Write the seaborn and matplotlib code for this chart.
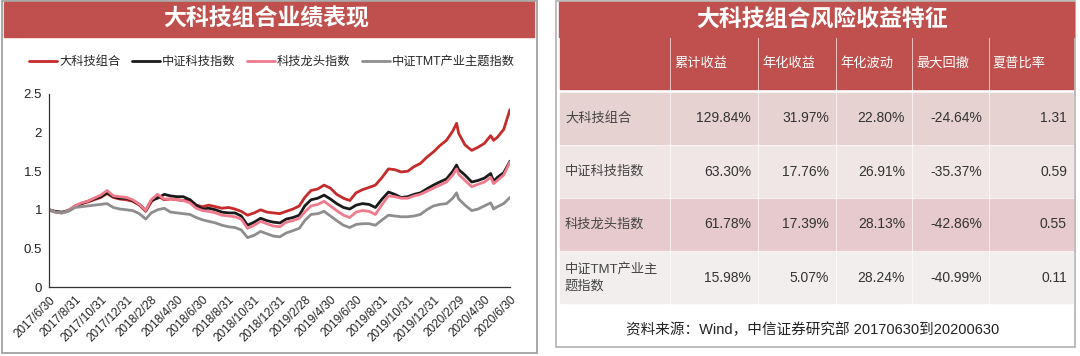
import pandas as pd
import numpy as np
import matplotlib
matplotlib.use("Agg")
import matplotlib.pyplot as plt
from matplotlib.patches import Rectangle
import seaborn as sns

# ---- data ----
dates = ["2017-06-30", "2017-07-15", "2017-07-31", "2017-08-15", "2017-08-31", "2017-09-15",
         "2017-09-30", "2017-10-15", "2017-10-31", "2017-11-15", "2017-11-30", "2017-12-15",
         "2017-12-31", "2018-01-15", "2018-01-31", "2018-02-15", "2018-02-28", "2018-03-15",
         "2018-03-31", "2018-04-15", "2018-04-30", "2018-05-15", "2018-05-31", "2018-06-15",
         "2018-06-30", "2018-07-15", "2018-07-31", "2018-08-15", "2018-08-31", "2018-09-15",
         "2018-09-30", "2018-10-15", "2018-10-31", "2018-11-15", "2018-11-30", "2018-12-15",
         "2018-12-31", "2019-01-15", "2019-01-31", "2019-02-15", "2019-02-28", "2019-03-15",
         "2019-03-31", "2019-04-15", "2019-04-30", "2019-05-15", "2019-05-31", "2019-06-15",
         "2019-06-30", "2019-07-15", "2019-07-31", "2019-08-15", "2019-08-31", "2019-09-15",
         "2019-09-30", "2019-10-15", "2019-10-31", "2019-11-15", "2019-11-30", "2019-12-15",
         "2019-12-31", "2020-01-15", "2020-01-31", "2020-02-15", "2020-02-24", "2020-02-29",
         "2020-03-15", "2020-03-31", "2020-04-15", "2020-04-30", "2020-05-15", "2020-05-22",
         "2020-05-31", "2020-06-15", "2020-06-30"]

big_tech = [1.00, 0.97, 0.96, 0.99, 1.05, 1.08, 1.10, 1.13, 1.16, 1.21, 1.16, 1.14,
            1.13, 1.11, 1.06, 0.98, 1.10, 1.18, 1.13, 1.14, 1.13, 1.12, 1.13, 1.06,
            1.04, 1.06, 1.04, 1.02, 1.03, 1.01, 0.98, 0.93, 0.96, 1.00, 0.97, 0.96,
            0.95, 0.98, 1.01, 1.05, 1.16, 1.25, 1.27, 1.32, 1.28, 1.20, 1.15, 1.12,
            1.22, 1.26, 1.29, 1.32, 1.42, 1.53, 1.52, 1.49, 1.50, 1.56, 1.60, 1.68,
            1.75, 1.83, 1.90, 2.02, 2.12, 1.99, 1.84, 1.77, 1.81, 1.86, 1.96, 1.90,
            1.94, 2.04, 2.30]
csi_tech = [1.00, 0.98, 0.97, 0.99, 1.04, 1.08, 1.11, 1.14, 1.17, 1.22, 1.17, 1.15,
            1.15, 1.12, 1.07, 0.99, 1.12, 1.15, 1.20, 1.18, 1.17, 1.17, 1.13, 1.06,
            1.01, 1.02, 1.00, 0.97, 0.96, 0.96, 0.92, 0.80, 0.84, 0.89, 0.86, 0.84,
            0.83, 0.88, 0.90, 0.93, 1.05, 1.13, 1.15, 1.19, 1.14, 1.08, 1.03, 1.01,
            1.06, 1.08, 1.07, 1.03, 1.14, 1.23, 1.20, 1.16, 1.17, 1.20, 1.22, 1.27,
            1.32, 1.36, 1.40, 1.50, 1.58, 1.52, 1.45, 1.36, 1.38, 1.41, 1.47, 1.37,
            1.42, 1.48, 1.63]
tech_leaders = [1.00, 0.97, 0.96, 0.99, 1.05, 1.09, 1.11, 1.15, 1.19, 1.25, 1.18, 1.17,
                1.16, 1.13, 1.07, 0.99, 1.13, 1.20, 1.14, 1.14, 1.13, 1.12, 1.09, 1.02,
                0.99, 0.98, 0.96, 0.93, 0.92, 0.91, 0.88, 0.76, 0.80, 0.85, 0.82, 0.79,
                0.78, 0.84, 0.86, 0.89, 0.97, 1.05, 1.07, 1.11, 1.05, 0.99, 0.93, 0.90,
                0.97, 0.99, 0.98, 0.94, 1.07, 1.18, 1.17, 1.15, 1.15, 1.18, 1.20, 1.24,
                1.28, 1.32, 1.36, 1.45, 1.53, 1.46, 1.38, 1.30, 1.33, 1.36, 1.42, 1.34,
                1.38, 1.45, 1.62]
csi_tmt = [1.00, 0.97, 0.96, 0.98, 1.03, 1.04, 1.05, 1.06, 1.07, 1.08, 1.03, 1.01,
           1.00, 0.99, 0.95, 0.88, 0.96, 1.00, 1.02, 0.97, 0.96, 0.95, 0.94, 0.90,
           0.87, 0.85, 0.83, 0.80, 0.78, 0.77, 0.74, 0.64, 0.67, 0.72, 0.69, 0.66,
           0.65, 0.70, 0.73, 0.76, 0.86, 0.94, 0.95, 0.98, 0.92, 0.86, 0.80, 0.77,
           0.81, 0.82, 0.82, 0.80, 0.87, 0.93, 0.92, 0.91, 0.91, 0.92, 0.94, 1.00,
           1.05, 1.07, 1.08, 1.15, 1.22, 1.14, 1.06, 0.99, 1.01, 1.05, 1.09, 1.01,
           1.04, 1.08, 1.16]

series_names = ["大科技组合", "中证科技指数", "科技龙头指数", "中证TMT产业主题指数"]
tick_dates = ["2017-06-30", "2017-08-31", "2017-10-31", "2017-12-31", "2018-02-28",
              "2018-04-30", "2018-06-30", "2018-08-31", "2018-10-31", "2018-12-31",
              "2019-02-28", "2019-04-30", "2019-06-30", "2019-08-31", "2019-10-31",
              "2019-12-31", "2020-02-29", "2020-04-30", "2020-06-30"]

table_cols = ["累计收益", "年化收益", "年化波动", "最大回撤", "夏普比率"]
table_rows = ["大科技组合", "中证科技指数", "科技龙头指数", "中证TMT产业主\n题指数"]
cum_ret = ["129.84%", "63.30%", "61.78%", "15.98%"]
ann_ret = ["31.97%", "17.76%", "17.39%", "5.07%"]
ann_vol = ["22.80%", "26.91%", "28.13%", "28.24%"]
max_dd = ["-24.64%", "-35.37%", "-42.86%", "-40.99%"]
sharpe = ["1.31", "0.59", "0.55", "0.11"]

# ---- style ----
sns.set_theme(style="white")
plt.rcParams["font.family"] = ["Liberation Sans", "Noto Sans CJK SC"]
plt.rcParams["axes.unicode_minus"] = False

W, H = 1080, 356
fig = plt.figure(figsize=(W / 100, H / 100), dpi=100)

# background layer in pixel coordinates
bg = fig.add_axes([0, 0, 1, 1])
bg.set_xlim(0, W)
bg.set_ylim(H, 0)
bg.axis("off")

title_red = "#C0504D"
# left panel frame + title bar
bg.add_patch(Rectangle((2, 1), 535, 352, fill=False, ec="#9a9a9a", lw=1.2))
bg.add_patch(Rectangle((4, 2), 530, 35, color=title_red))
bg.text(266, 19.5, "大科技组合业绩表现", color="white", fontsize=16.5,
        fontweight="bold", ha="center", va="center")

# right panel: table
bg.add_patch(Rectangle((556, 1), 519, 346, fill=False, ec="#b0b0b0", lw=1.2))
bg.add_patch(Rectangle((559, 2), 515, 35, color=title_red))
bg.text(822, 19.5, "大科技组合风险收益特征", color="white", fontsize=16.5,
        fontweight="bold", ha="center", va="center")

col_edges = [559, 670, 758, 836, 912, 989, 1074]
row_tops = [38, 93, 146, 199, 252]
row_h = [51, 51, 51, 51, 51]
row_colors = [title_red, "#E7D2D2", "#F0E6E6", "#E6CACD", "#F2EEEE"]
values = list(zip(cum_ret, ann_ret, ann_vol, max_dd, sharpe))

for r in range(5):
    for c in range(6):
        x0 = col_edges[c] + 1
        x1 = col_edges[c + 1] - 1
        bg.add_patch(Rectangle((x0, row_tops[r]), x1 - x0, row_h[r], color=row_colors[r]))
        yc = row_tops[r] + row_h[r] / 2
        if r == 0:
            if c > 0:
                bg.text(x0 + 3, yc, table_cols[c - 1], color="white", fontsize=9.5,
                        ha="left", va="center")
        else:
            if c == 0:
                bg.text(x0 + 5, yc, table_rows[r - 1], color="#444444", fontsize=9.5,
                        ha="left", va="center", linespacing=1.5)
            else:
                bg.text(x1 - 6, yc, values[r - 1][c - 1], color="#333333", fontsize=10,
                        ha="right", va="center")

bg.text(813, 330, "资料来源：Wind，中信证券研究部 20170630到20200630", color="#222222",
        fontsize=10.5, ha="center", va="center")

# ---- line chart ----
df = pd.DataFrame({"date": pd.to_datetime(dates)})
for name, vals in zip(series_names, [big_tech, csi_tech, tech_leaders, csi_tmt]):
    df[name] = vals
long = df.melt(id_vars="date", var_name="series", value_name="value")

ax = fig.add_axes([49 / W, (H - 287) / H, 461 / W, 193 / H])
ax.patch.set_alpha(0)
palette = {"大科技组合": "#C62A2A", "中证科技指数": "#1A1A1A",
           "科技龙头指数": "#EE7A8C", "中证TMT产业主题指数": "#8E8E8E"}
sns.lineplot(data=long, x="date", y="value", hue="series", hue_order=series_names,
             palette=palette, linewidth=2, ax=ax)

ticks = pd.to_datetime(tick_dates)
ax.set_xlim(ticks[0], ticks[-1])
ax.set_ylim(0, 2.5)
ax.set_yticks([0, 0.5, 1, 1.5, 2, 2.5])
ax.set_yticklabels(["0", "0.5", "1", "1.5", "2", "2.5"])
ax.set_xticks(ticks)
ax.set_xticklabels([f"{d.year}/{d.month}/{d.day}" for d in ticks], rotation=45,
                   ha="right", rotation_mode="anchor")
ax.tick_params(axis="both", direction="out", length=3, width=0.8, colors="#222222",
               labelsize=9.5, pad=2)
ax.tick_params(axis="x", labelsize=8.5)
ax.set_xlabel("")
ax.set_ylabel("")
for s in ["top", "right"]:
    ax.spines[s].set_visible(False)
for s in ["left", "bottom"]:
    ax.spines[s].set_color("#333333")
    ax.spines[s].set_linewidth(0.9)

ax.legend(loc="center", bbox_to_anchor=(272 / W, 1 - 62 / H), bbox_transform=fig.transFigure,
          ncol=4, frameon=False, fontsize=8.8, handlelength=2.3, columnspacing=0.9,
          handletextpad=0.2)

fig.savefig("out.png", dpi=100)
